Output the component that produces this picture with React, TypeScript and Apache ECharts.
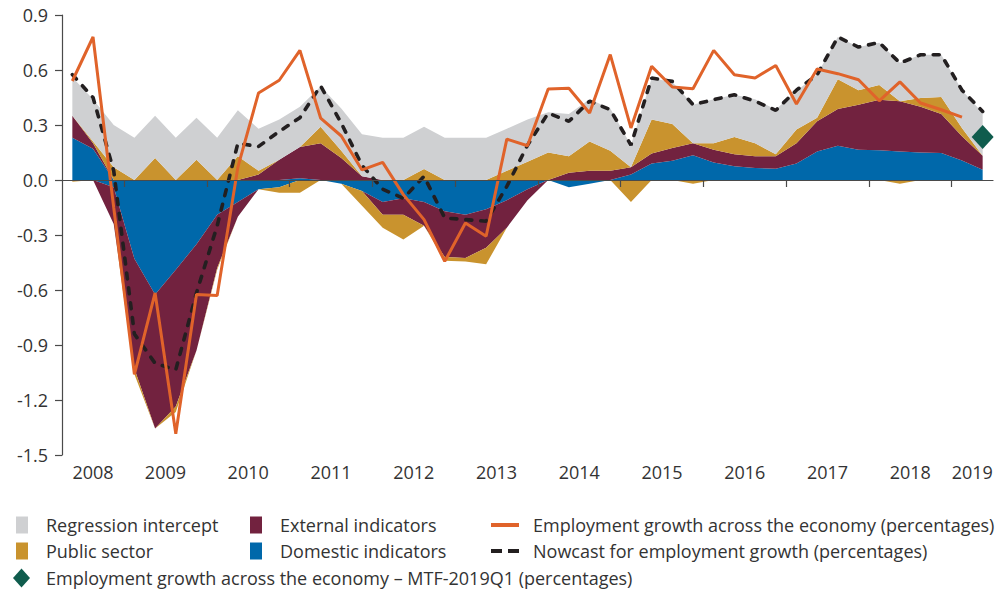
import React, { useEffect, useRef } from "react";
import * as echarts from "echarts";

const quarters = [
  "2008Q2", "2008Q3", "2008Q4",
  "2009Q1", "2009Q2", "2009Q3", "2009Q4",
  "2010Q1", "2010Q2", "2010Q3", "2010Q4",
  "2011Q1", "2011Q2", "2011Q3", "2011Q4",
  "2012Q1", "2012Q2", "2012Q3", "2012Q4",
  "2013Q1", "2013Q2", "2013Q3", "2013Q4",
  "2014Q1", "2014Q2", "2014Q3", "2014Q4",
  "2015Q1", "2015Q2", "2015Q3", "2015Q4",
  "2016Q1", "2016Q2", "2016Q3", "2016Q4",
  "2017Q1", "2017Q2", "2017Q3", "2017Q4",
  "2018Q1", "2018Q2", "2018Q3", "2018Q4",
  "2019Q1", "2019Q2",
];

const years = ["2008", "2009", "2010", "2011", "2012", "2013", "2014", "2015", "2016", "2017", "2018", "2019"];

const yTickLabels = ["-1.5", "-1.2", "-0.9", "-0.6", "-0.3", "0.0", "0.3", "0.6", "0.9"];

const domestic = [
  0.23, 0.17, -0.04, -0.43, -0.625, -0.49, -0.35, -0.19, -0.12, -0.05,
  -0.04, 0.01, 0.0, -0.02, -0.06, -0.12, -0.1, -0.12, -0.17, -0.19,
  -0.16, -0.11, -0.05, 0.0, -0.04, -0.02, 0.0, 0.03, 0.09, 0.105,
  0.135, 0.095, 0.075, 0.065, 0.062, 0.09, 0.155, 0.187, 0.165, 0.162,
  0.156, 0.15, 0.147, 0.107, 0.056,
];

const external = [
  0.12, 0.03, -0.2, -0.6, -0.73, -0.745, -0.58, -0.29, -0.08, 0.03,
  0.11, 0.17, 0.2, 0.12, 0.02, -0.07, -0.09, -0.13, -0.25, -0.235,
  -0.21, -0.15, -0.06, 0.0, 0.04, 0.05, 0.05, 0.04, 0.055, 0.07,
  0.065, 0.07, 0.065, 0.065, 0.068, 0.11, 0.165, 0.2, 0.245, 0.276,
  0.274, 0.25, 0.213, 0.131, 0.076,
];

const publicSector = [
  -0.01, 0.01, 0.07, -0.03, 0.12, -0.03, 0.11, -0.01, 0.13, 0.02,
  -0.03, -0.07, 0.09, 0.04, -0.08, -0.07, -0.135, 0.06, -0.02, -0.02,
  -0.09, 0.05, 0.1, 0.15, 0.09, 0.16, 0.11, -0.12, 0.185, 0.13,
  -0.02, 0.035, 0.095, 0.07, 0.01, 0.075, 0.02, 0.163, 0.08, 0.08,
  -0.02, 0.047, 0.093, 0.045, 0.0,
];

const intercept = [
  0.21, 0.23, 0.23, 0.23, 0.23, 0.23, 0.23, 0.23, 0.25, 0.23,
  0.22, 0.22, 0.22, 0.23, 0.23, 0.23, 0.23, 0.23, 0.23, 0.23,
  0.23, 0.23, 0.23, 0.22, 0.23, 0.23, 0.23, 0.12, 0.225, 0.23,
  0.21, 0.24, 0.23, 0.24, 0.245, 0.21, 0.235, 0.23, 0.235, 0.23,
  0.21, 0.236, 0.23, 0.207, 0.233,
];

const employment = [
  0.54, 0.78, -0.15, -1.06, -0.616, -1.384, -0.625, -0.63, 0.07, 0.475,
  0.544, 0.707, 0.338, 0.24, 0.055, 0.096, -0.08, -0.216, -0.444, -0.235,
  -0.307, 0.223, 0.187, 0.496, 0.5, 0.365, 0.684, 0.284, 0.62, 0.507,
  0.498, 0.707, 0.574, 0.556, 0.625, 0.415, 0.605, 0.58, 0.547, 0.432,
  0.535, 0.42, 0.383, 0.343, null,
];

const nowcast = [
  0.575, 0.45, 0.05, -0.84, -1.0, -1.035, -0.616, -0.25, 0.2, 0.183,
  0.265, 0.34, 0.514, 0.31, 0.08, -0.05, -0.1, 0.02, -0.207, -0.216,
  -0.225, -0.035, 0.19, 0.365, 0.32, 0.43, 0.384, 0.19, 0.556, 0.538,
  0.411, 0.438, 0.465, 0.43, 0.38, 0.49, 0.574, 0.78, 0.725, 0.75,
  0.638, 0.683, 0.683, 0.49, 0.374,
];

const mtfQuarter = "2019Q2";
const mtfValue = 0.235;

const NAMES = {
  intercept: "Regression intercept",
  external: "External indicators",
  employment: "Employment growth across the economy (percentages)",
  publicSector: "Public sector",
  domestic: "Domestic indicators",
  nowcast: "Nowcast for employment growth (percentages)",
  mtf: "Employment growth across the economy \u2013 MTF-2019Q1 (percentages)",
};

const COLORS = {
  intercept: "#cfd0d2",
  external: "#72223f",
  publicSector: "#c9932e",
  domestic: "#0068aa",
  employment: "#e0632a",
  nowcast: "#231f20",
  mtf: "#0f5c4d",
  text: "#333333",
  axis: "#4a4a4a",
};

const FONT = "'Open Sans', 'Noto Sans', sans-serif";

const GRID = { left: 62, right: 15, top: 15, bottom: 140 };
const CHART_W = 1008;
const CHART_H = 595;

export default function App() {
  const ref = useRef<HTMLDivElement>(null);

  useEffect(() => {
    if (!ref.current) return;
    const chart = echarts.init(ref.current, undefined, { renderer: "svg" });

    const pos = (a: number[]) => a.map((v) => (v > 0 ? v : 0));
    const neg = (a: number[]) => a.map((v) => (v < 0 ? v : 0));

    const area = (name: string, data: number[], color: string, stack: string) => ({
      name,
      type: "line",
      stack,
      stackStrategy: "all",
      data,
      xAxisIndex: 0,
      symbol: "none",
      showSymbol: false,
      silent: true,
      lineStyle: { width: 0, color },
      itemStyle: { color },
      areaStyle: { color, opacity: 1 },
      emphasis: { disabled: true },
      z: 2,
    });

    const boundaries = [...quarters, "end"];
    const tickSet = new Set<number>();
    quarters.forEach((q, i) => {
      if (q.endsWith("Q1")) tickSet.add(i);
    });
    const labelAt = new Map<number, { year: string; half: boolean }>();
    years.forEach((y) => {
      const idx = quarters.map((q, i) => (q.startsWith(y) ? i : -1)).filter((i) => i >= 0);
      const c = (idx[0] + idx[idx.length - 1] + 1) / 2;
      labelAt.set(Math.floor(c), { year: y, half: c !== Math.floor(c) });
    });
    const plotW = CHART_W - GRID.left - GRID.right;
    const band = plotW / quarters.length;

    const axisFont = { fontSize: 18, color: COLORS.text, fontFamily: FONT };

    const legendText = { fontSize: 18, color: COLORS.text, fontFamily: FONT, lineHeight: 20 };
    const legendBase = {
      orient: "vertical",
      padding: 0,
      itemGap: 6,
      itemHeight: 17,
      selectedMode: false,
      top: 515,
    };

    const option = {
      animation: false,
      backgroundColor: "#ffffff",
      grid: { ...GRID, containLabel: false },
      legend: [
        {
          ...legendBase,
          left: 16,
          itemWidth: 12,
          icon: "rect",
          data: [NAMES.intercept, NAMES.publicSector],
          textStyle: { ...legendText, padding: [0, 0, 0, 13] },
        },
        {
          ...legendBase,
          left: 250,
          itemWidth: 12,
          icon: "rect",
          data: [NAMES.external, NAMES.domestic],
          textStyle: { ...legendText, padding: [0, 0, 0, 13] },
        },
        {
          ...legendBase,
          left: 491,
          itemWidth: 28,
          itemHeight: 4,
          data: [
            { name: NAMES.employment, icon: "rect" },
            { name: NAMES.nowcast, icon: "path://M0,0h11v4h-11z M17,0h11v4h-11z" },
          ],
          textStyle: { ...legendText, padding: [0, 0, 0, 9] },
        },
        {
          ...legendBase,
          left: 13,
          top: 568,
          itemWidth: 17,
          itemHeight: 19,
          data: [NAMES.mtf],
          textStyle: { ...legendText, padding: [0, 0, 0, 11] },
        },
      ],
      xAxis: [
        {
          type: "category",
          data: quarters,
          boundaryGap: true,
          show: false,
          position: "top",
          axisLine: { onZero: false },
        },
        {
          type: "category",
          data: boundaries,
          boundaryGap: false,
          position: "bottom",
          z: 10,
          axisLine: { show: true, onZero: true, lineStyle: { color: COLORS.axis, width: 1.2 } },
          axisTick: {
            show: true,
            length: 7,
            interval: (i: number) => tickSet.has(i),
            lineStyle: { color: COLORS.axis, width: 1.2 },
          },
          axisLabel: { show: false },
          splitLine: { show: false },
        },
        {
          type: "category",
          data: boundaries,
          boundaryGap: false,
          position: "bottom",
          axisLine: { show: false, onZero: false },
          axisTick: { show: false },
          splitLine: { show: false },
          axisLabel: {
            ...axisFont,
            margin: 8,
            hideOverlap: false,
            interval: (i: number) => labelAt.has(i),
            formatter: (_v: string, i: number) => {
              const l = labelAt.get(i);
              if (!l) return "";
              return l.half ? `{h|${l.year}}` : `{n|${l.year}}`;
            },
            rich: {
              h: { ...axisFont, padding: [0, 0, 0, band] },
              n: { ...axisFont },
            },
          },
        },
      ],
      yAxis: {
        type: "value",
        min: -1.5,
        max: 0.9,
        interval: 0.3,
        z: 10,
        axisLine: { show: true, lineStyle: { color: COLORS.axis, width: 1.2 } },
        axisTick: { show: true, length: 7, lineStyle: { color: COLORS.axis, width: 1.2 } },
        splitLine: { show: false },
        axisLabel: {
          ...axisFont,
          margin: 14,
          formatter: (v: number) => {
            const s = (Math.abs(v) < 1e-9 ? 0 : v).toFixed(1);
            return yTickLabels.includes(s) ? s : "";
          },
        },
      },
      series: [
        area(NAMES.domestic, pos(domestic), COLORS.domestic, "pos"),
        area(NAMES.external, pos(external), COLORS.external, "pos"),
        area(NAMES.publicSector, pos(publicSector), COLORS.publicSector, "pos"),
        area(NAMES.intercept, pos(intercept), COLORS.intercept, "pos"),
        area(NAMES.domestic, neg(domestic), COLORS.domestic, "neg"),
        area(NAMES.external, neg(external), COLORS.external, "neg"),
        area(NAMES.publicSector, neg(publicSector), COLORS.publicSector, "neg"),
        {
          name: NAMES.nowcast,
          type: "line",
          data: nowcast,
          xAxisIndex: 0,
          symbol: "none",
          silent: true,
          lineStyle: { color: COLORS.nowcast, width: 3.6, type: [6, 9], cap: "round" },
          itemStyle: { color: COLORS.nowcast },
          z: 4,
        },
        {
          name: NAMES.employment,
          type: "line",
          data: employment,
          xAxisIndex: 0,
          symbol: "none",
          silent: true,
          lineStyle: { color: COLORS.employment, width: 3 },
          itemStyle: { color: COLORS.employment },
          z: 5,
        },
        {
          name: NAMES.mtf,
          type: "scatter",
          xAxisIndex: 0,
          data: [[mtfQuarter, mtfValue]],
          symbol: "diamond",
          symbolSize: [22, 24],
          silent: true,
          itemStyle: { color: COLORS.mtf, opacity: 1 },
          z: 6,
        },
      ],
    };

    chart.setOption(option as any);
    return () => chart.dispose();
  }, []);

  return (
    <div
      ref={ref}
      style={{ position: "fixed", left: 0, top: 0, width: CHART_W, height: CHART_H, background: "#fff" }}
    />
  );
}
